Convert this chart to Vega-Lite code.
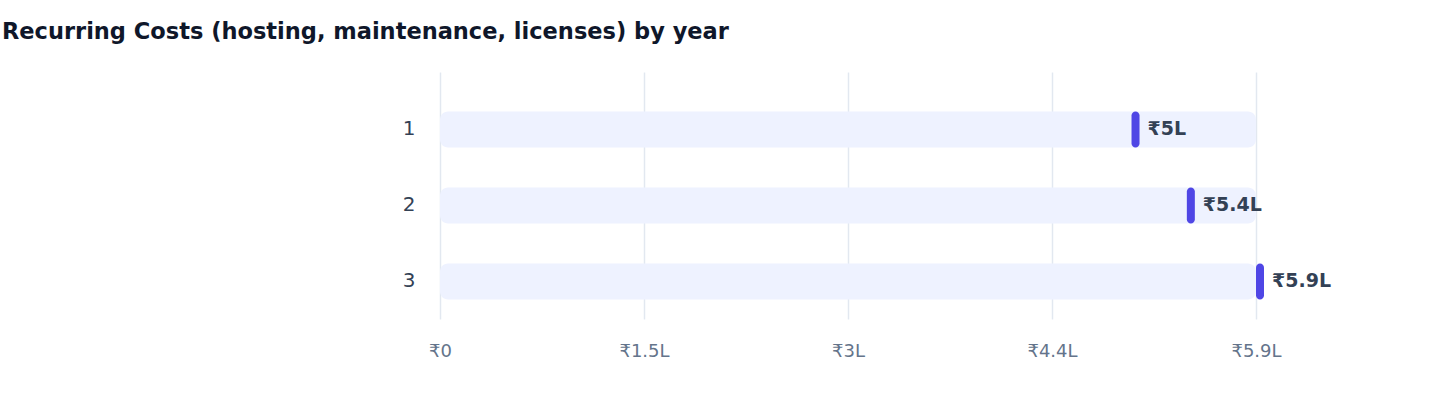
{
  "$schema": "https://vega.github.io/schema/vega-lite/v6.json",
  "autosize": {"type": "none"},
  "padding": {"left": 440, "top": 72, "right": 184, "bottom": 89},
  "width": 816,
  "height": 247,
  "background": "#ffffff",
  "title": {
    "text": "Recurring Costs (hosting, maintenance, licenses) by year",
    "anchor": "start",
    "frame": "group",
    "dx": -438,
    "offset": 11,
    "baseline": "alphabetic",
    "fontSize": 22.5,
    "fontWeight": "bold",
    "font": "DejaVu Sans",
    "color": "#0f172a"
  },
  "data": {
    "values": [
      {"year": "1", "cost": 500000, "label": "₹5L"},
      {"year": "2", "cost": 540000, "label": "₹5.4L"},
      {"year": "3", "cost": 590000, "label": "₹5.9L"}
    ]
  },
  "encoding": {
    "y": {
      "field": "year",
      "type": "nominal",
      "sort": null,
      "scale": {"paddingInner": 0.5, "paddingOuter": 0.375, "align": 0.674},
      "axis": {
        "title": null,
        "domain": false,
        "ticks": false,
        "grid": false,
        "labelFontSize": 20,
        "labelColor": "#334155",
        "labelPadding": 25,
        "labelFont": "DejaVu Sans"
      }
    }
  },
  "layer": [
    {
      "mark": {"type": "bar", "color": "#eef2ff", "cornerRadius": 8, "height": 36},
      "encoding": {
        "x": {
          "datum": 590000,
          "type": "quantitative",
          "scale": {"domain": [0, 590000], "nice": false, "zero": true},
          "axis": {
            "title": null,
            "values": [0, 147500, 295000, 442500, 590000],
            "labelExpr": "'₹' + format(datum.value / 100000, '.2~r') + (datum.value == 0 ? '' : 'L')",
            "domain": false,
            "ticks": false,
            "grid": true,
            "gridColor": "#e2e8f0",
            "gridWidth": 1.5,
            "labelFlush": false,
            "labelFontSize": 18,
            "labelColor": "#64748b",
            "labelPadding": 23,
            "labelFont": "DejaVu Sans"
          }
        }
      }
    },
    {
      "mark": {"type": "tick", "color": "#4f46e5", "thickness": 8, "size": 36, "cornerRadius": 4, "xOffset": 4, "opacity": 1},
      "encoding": {
        "x": {"field": "cost", "type": "quantitative"}
      }
    },
    {
      "mark": {"type": "text", "align": "left", "baseline": "middle", "dx": 16, "fontSize": 19, "fontWeight": "bold", "color": "#334155", "font": "DejaVu Sans"},
      "encoding": {
        "x": {"field": "cost", "type": "quantitative"},
        "text": {"field": "label"}
      }
    }
  ],
  "config": {
    "view": {"stroke": null}
  }
}
